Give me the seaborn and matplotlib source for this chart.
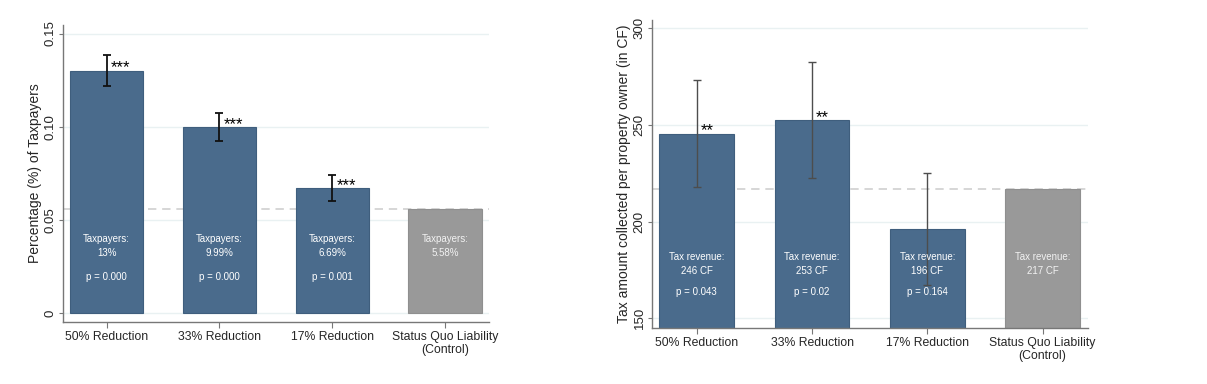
import numpy as np
import matplotlib
matplotlib.use("Agg")
import matplotlib.pyplot as plt
import matplotlib.transforms as mtransforms
import seaborn as sns

# data
groups = ["50% Reduction", "33% Reduction", "17% Reduction", "Status Quo Liability\n(Control)"]

share = [0.130, 0.0999, 0.0669, 0.0558]
share_lo = [0.1218, 0.0923, 0.0600]
share_hi = [0.1384, 0.1075, 0.0739]
share_text = ["13%", "9.99%", "6.69%", "5.58%"]
share_p = ["p = 0.000", "p = 0.000", "p = 0.001", ""]
share_stars = ["***", "***", "***", ""]

revenue = [245.5, 252.5, 196.0, 216.7]
rev_lo = [217.8, 222.4, 167.2]
rev_hi = [273.3, 282.6, 225.3]
rev_text = ["246 CF", "253 CF", "196 CF", "217 CF"]
rev_p = ["p = 0.043", "p = 0.02", "p = 0.164", ""]
rev_stars = ["**", "**", "", ""]

sns.set_theme(style="white")
plt.rcParams["font.family"] = ["Liberation Sans", "DejaVu Sans"]

blue = "#4a6b8c"
gray = "#999999"
colors = [blue, blue, blue, gray]

fig = plt.figure(figsize=(12.07, 3.84), dpi=100)
ax1 = fig.add_axes([0.052, 0.1615, 0.353, 0.773])
ax2 = fig.add_axes([0.540, 0.1466, 0.361, 0.801])


def draw_panel(ax, vals, lo, hi, texts, pvals, stars, head, ylim, yticks, yticklabels,
               ylabel, err_color, err_lw, txt_y):
    sns.barplot(x=groups, y=vals, hue=groups, palette=colors, legend=False, ax=ax,
                width=0.65, saturation=1, edgecolor="#3f5e7d", linewidth=0.8, zorder=2)
    ax.patches[-1].set_edgecolor("#8f8f8f")
    ax.axhline(vals[-1], color="#cfcfcf", ls=(0, (5, 3.5)), lw=1.2, zorder=1)
    for y in yticks:
        ax.axhline(y, color="#e9f1f2", lw=1, zorder=0.5)

    xs = np.arange(len(lo))
    v = np.array(vals[:len(lo)])
    ax.errorbar(xs, v, yerr=[v - np.array(lo), np.array(hi) - v], fmt="none",
                ecolor=err_color, elinewidth=err_lw, capsize=3, capthick=err_lw, zorder=3)

    for i, s in enumerate(stars):
        if s:
            ax.annotate(s, (i, vals[i]), xytext=(3, 2), textcoords="offset points",
                        ha="left", va="center", fontsize=12, color="black", zorder=4)

    tr = mtransforms.blended_transform_factory(ax.transData, ax.transAxes)
    for i in range(len(groups)):
        tc = "white" if i < 3 else "#f2f2f2"
        ax.text(i, txt_y[0], head, transform=tr, ha="center", va="center",
                fontsize=7, color=tc, zorder=4)
        ax.text(i, txt_y[1], texts[i], transform=tr, ha="center", va="center",
                fontsize=7, color=tc, zorder=4)
        if pvals[i]:
            ax.text(i, txt_y[2], pvals[i], transform=tr, ha="center", va="center",
                    fontsize=7, color=tc, zorder=4)

    ax.set_xlim(-0.39, 3.39)
    ax.set_ylim(*ylim)
    ax.set_yticks(yticks)
    ax.set_yticklabels(yticklabels, rotation=90, va="center")
    ax.set_ylabel(ylabel, fontsize=10, labelpad=2)
    ax.set_xlabel("")
    ax.tick_params(axis="x", labelsize=8.8, length=4.5, width=0.8, color="#777777",
                   pad=2, bottom=True)
    ax.tick_params(axis="y", labelsize=9.5, length=3, width=0.8, color="#777777",
                   pad=1.5, left=True)
    for lab in ax.get_xticklabels():
        lab.set_linespacing(1.15)
    sns.despine(ax=ax)
    for side in ["left", "bottom"]:
        ax.spines[side].set_color("#777777")
        ax.spines[side].set_linewidth(1)


draw_panel(ax1, share, share_lo, share_hi, share_text, share_p, share_stars, "Taxpayers:",
           (-0.0047, 0.1545), [0, 0.05, 0.10, 0.15], ["0", "0.05", "0.10", "0.15"],
           "Percentage (%) of Taxpayers", "#111111", 1.3, (0.279, 0.232, 0.152))

draw_panel(ax2, revenue, rev_lo, rev_hi, rev_text, rev_p, rev_stars, "Tax revenue:",
           (145.1, 304.3), [150, 200, 250, 300], ["150", "200", "250", "300"],
           "Tax amount collected per property owner (in CF)", "#4d4d4d", 1.0,
           (0.231, 0.185, 0.115))

fig.savefig("out.png", dpi=100)
